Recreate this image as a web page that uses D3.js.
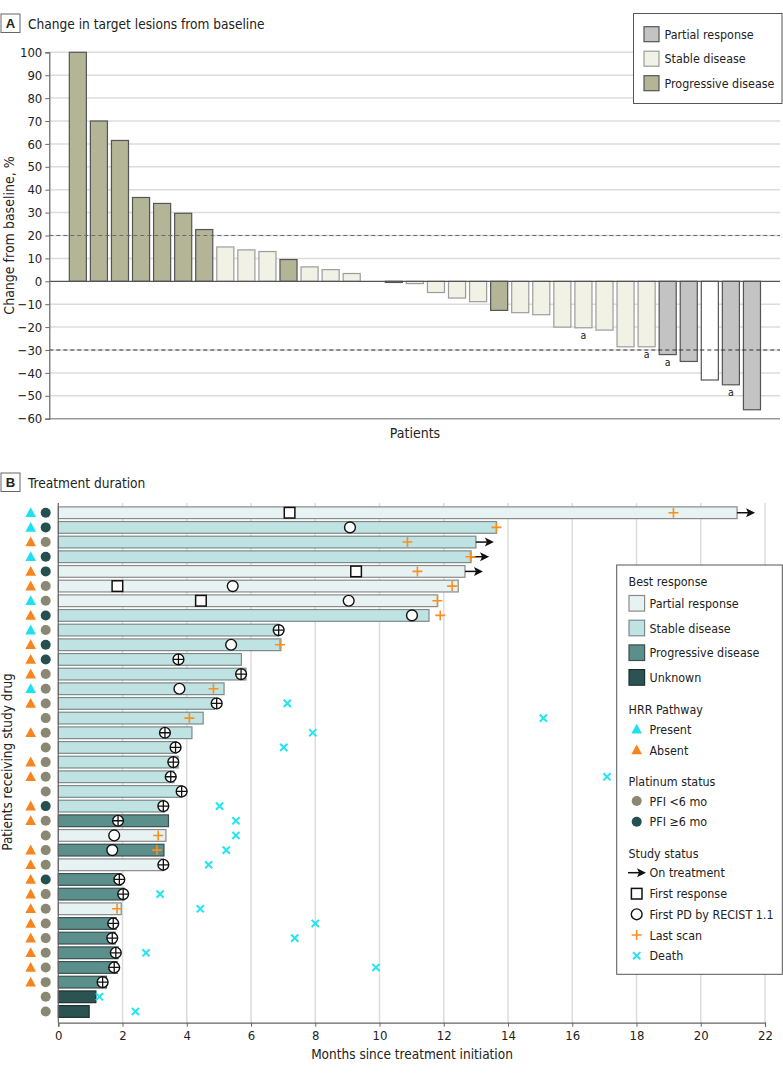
<!DOCTYPE html>
<html>
<head>
<meta charset="utf-8">
<script src="https://cdn.jsdelivr.net/npm/d3@7"></script>
<style>
body { margin: 0; background: #fff; }
svg text { font-family: "Liberation Sans Narrow", "DejaVu Sans Condensed", "Liberation Sans", sans-serif; fill: #222; }
</style>
</head>
<body>
<svg id="chart" width="783" height="1074"></svg>
<script>
// ---- Panel A data: change in target lesions (one entry per patient)
const changeValues = [100, 70, 61.5, 36.6, 34, 29.7, 22.6, 15, 13.7, 13, 9.5, 6.3, 5.1, 3.4, 0,
    -0.5, -1, -4.9, -7.3, -8.9, -12.7, -13.7, -14.6, -20, -20.3, -21.3, -28.6, -28.6,
    -32, -35, -43.1, -45.2, -56.1];
const changeResponse = ['PD','PD','PD','PD','PD','PD','PD','SD','SD','SD','PD','SD','SD','SD','NA',
    'PD','SD','SD','SD','SD','PD','SD','SD','SD','SD','SD','SD','SD',
    'PR','PR','NE','PR','PR'];
const footnoteA = [24, 27, 28, 31];
const yTicksA = d3.range(-60, 101, 10);
const thresholdsA = [20, -30];
const legendA = [['PR', 'Partial response'], ['SD', 'Stable disease'], ['PD', 'Progressive disease']];

// ---- Panel B data: treatment duration (one entry per row, top to bottom)
const bestResponse = ['PR','SD','SD','SD','PR','PR','PR','SD','SD','SD','SD','SD','SD','SD','SD','SD',
    'SD','SD','SD','SD','SD','PD','PR','PD','PR','PD','PD','PR','PD','PD','PD','PD','PD','UN','UN'];
const hrrPathway = ['P','P','A','P','A','A','P','A','P','A','A','A','P','A','','A',
    '','A','A','','A','A','','A','A','A','A','A','A','A','A','A','A','',''];
const pfiStatus = ['hi','hi','lo','hi','hi','lo','lo','hi','lo','hi','hi','lo','lo','lo','lo','lo',
    'lo','lo','lo','lo','hi','lo','lo','lo','lo','hi','lo','lo','lo','lo','lo','lo','lo','lo','lo'];
const duration = [21.13, 13.64, 13.0, 12.85, 12.66, 12.45, 11.81, 11.54, 6.86, 6.93, 5.7, 5.84, 5.16, 4.86, 4.51, 4.16,
    3.68, 3.73, 3.6, 3.85, 3.3, 3.43, 3.35, 3.29, 3.27, 1.95, 2.05, 1.96, 1.8, 1.77, 1.86, 1.83, 1.5, 1.17, 0.96];
const onTreatment = [1,0,1,1,1,0,0,0,0,0,0,0,0,0,0,0,0,0,0,0,0,0,0,0,0,0,0,0,0,0,0,0,0,0,0];
const firstResponse = [7.2,null,null,null,9.27,1.84,4.44,null,null,null,null,null,null,null,null,null,
    null,null,null,null,null,null,null,null,null,null,null,null,null,null,null,null,null,null,null];
const firstPD = [null,9.08,null,null,null,5.43,9.04,11.01,null,5.38,null,null,3.77,null,null,null,
    null,null,null,null,null,null,1.74,1.68,null,null,null,null,null,null,null,null,null,null,null];
const lastScan = [19.15,13.64,10.87,12.83,11.18,12.26,11.8,11.89,null,6.9,null,null,4.83,null,4.08,null,
    null,null,null,null,null,null,3.11,3.07,null,null,null,1.83,null,null,null,null,null,null,null];
const pdAtLastScan = [null,null,null,null,null,null,null,null,6.86,null,3.74,5.69,null,4.93,null,3.32,
    3.65,3.58,3.5,3.84,3.27,1.86,null,null,3.27,1.9,2.02,null,1.71,1.68,1.79,1.74,1.38,null,null];
const death = [null,null,null,null,null,null,null,null,null,null,null,null,null,7.13,15.1,7.92,
    7.02,null,17.08,null,5.02,5.53,5.53,5.23,4.68,null,3.17,4.42,8.0,7.36,2.73,9.89,null,1.28,2.4];
const xTicksB = d3.range(0, 23, 2);

const svg = d3.select('#chart');

// colours
const fillA = {PD: '#b4b597', SD: '#f1f2e5', PR: '#c3c3c3', NE: '#ffffff'};
const strokeA = {PD: '#555', SD: '#9c9c9c', PR: '#555', NE: '#555'};
const fillB = {PR: '#e7f3f3', SD: '#bfe3e2', PD: '#5a8f8c', UN: '#2b5352'};
const strokeB = {PR: '#8a8a8a', SD: '#7c8a8a', PD: '#3d4f4f', UN: '#1e2f2f'};
const hrrColor = {P: '#20e0f0', A: '#f7841c'};
const pfiColor = {lo: '#8a8772', hi: '#264f50'};
const orange = '#f7901e', cyan = '#22e4f2';
const legFont = '12.4px';

function panelLabel(letter, title, y) {
    svg.append('rect').attr('x', 1).attr('y', y).attr('width', 19).attr('height', 18.5)
        .attr('fill', '#fff').attr('stroke', '#666').attr('stroke-width', 1);
    svg.append('text').attr('x', 10.5).attr('y', y + 14.2).attr('text-anchor', 'middle')
        .style('font-family', 'Liberation Sans, sans-serif')
        .style('font-weight', 'bold').style('font-size', '13px').text(letter);
    svg.append('text').attr('x', 28).attr('y', y + 14.5).style('font-size', '13.6px').text(title);
}

// ================= Panel A =================
panelLabel('A', 'Change in target lesions from baseline', 14);

const yA = d3.scaleLinear().domain([-60, 100]).range([418.7, 52.3]);
const xA = d3.scaleBand().domain(d3.range(changeValues.length))
    .range([49.3, 780.5]).paddingInner(0.19).paddingOuter(0.95);
const barsA = changeValues.map((v, i) => ({i: i, v: v, r: changeResponse[i]})).filter(d => d.v !== 0);

const gA = svg.append('g');
gA.selectAll('line.grid').data(yTicksA.filter(d => d !== 0 && d !== -60)).enter()
    .append('line').attr('class', 'grid')
    .attr('x1', 49.3).attr('x2', 780).attr('y1', d => yA(d)).attr('y2', d => yA(d))
    .attr('stroke', '#dcdcdc').attr('stroke-width', 1.5);

gA.append('line').attr('x1', 49.3).attr('x2', 780).attr('y1', yA(-60)).attr('y2', yA(-60))
    .attr('stroke', '#999').attr('stroke-width', 1.5);

gA.selectAll('rect.bar').data(barsA).enter()
    .append('rect').attr('class', 'bar')
    .attr('x', d => xA(d.i))
    .attr('width', xA.bandwidth())
    .attr('y', d => yA(Math.max(0, d.v)))
    .attr('height', d => Math.max(1, Math.abs(yA(d.v) - yA(0))))
    .attr('fill', d => fillA[d.r] || '#fff')
    .attr('stroke', d => strokeA[d.r] || '#555')
    .attr('stroke-width', 1.2);

gA.append('line').attr('x1', 49.3).attr('x2', 780).attr('y1', yA(0)).attr('y2', yA(0))
    .attr('stroke', '#555').attr('stroke-width', 1.2);

gA.selectAll('line.thr').data(thresholdsA).enter()
    .append('line').attr('class', 'thr')
    .attr('x1', 49.3).attr('x2', 780).attr('y1', d => yA(d)).attr('y2', d => yA(d))
    .attr('stroke', d => d > 0 ? '#6a6a6a' : '#333').attr('stroke-width', 1.1)
    .attr('stroke-dasharray', '4,3');

gA.selectAll('text.fn').data(footnoteA).enter()
    .append('text').attr('class', 'fn')
    .attr('x', i => xA(i) + xA.bandwidth() / 2)
    .attr('y', i => yA(changeValues[i]) + 11)
    .attr('text-anchor', 'middle').style('font-size', '10.5px').text('a');

const axA = d3.axisLeft(yA).tickValues(yTicksA).tickSize(4).tickPadding(3);
const axAg = svg.append('g').attr('transform', 'translate(49.3,0)').call(axA);
axAg.select('.domain').attr('stroke', '#666').attr('stroke-width', 1.2);
axAg.selectAll('.tick line').attr('stroke', '#666');
axAg.selectAll('.tick text').style('font-size', '13px').attr('fill', '#222');

svg.append('text').attr('transform', 'translate(14,' + yA(20) + ') rotate(-90)')
    .attr('text-anchor', 'middle').style('font-size', '14px').text('Change from baseline, %');
svg.append('text').attr('x', 415).attr('y', 438).attr('text-anchor', 'middle')
    .style('font-size', '14px').text('Patients');

// legend A
const legA = svg.append('g');
legA.append('rect').attr('x', 633.5).attr('y', 13.5).attr('width', 148.5).attr('height', 90)
    .attr('fill', '#fff').attr('stroke', '#555').attr('stroke-width', 1);
legendA.forEach(function(d, i){
    const y = 26.7 + i * 24.5;
    legA.append('rect').attr('x', 644).attr('y', y).attr('width', 15).attr('height', 15)
        .attr('fill', fillA[d[0]]).attr('stroke', strokeA[d[0]]).attr('stroke-width', 1.2);
    legA.append('text').attr('x', 664.5).attr('y', y + 12).style('font-size', legFont).text(d[1]);
});

// ================= Panel B =================
panelLabel('B', 'Treatment duration', 473);

const xB = d3.scaleLinear().domain([0, 22]).range([58.3, 765]);
const yB = d3.scaleBand().domain(d3.range(duration.length))
    .range([505.4, 1018.8]).paddingInner(0.2).paddingOuter(0.1);
const cy = i => yB(i) + yB.bandwidth() / 2;

const gB = svg.append('g');
gB.selectAll('line.vgrid').data(xTicksB.filter(d => d > 0)).enter()
    .append('line').attr('class', 'vgrid')
    .attr('x1', d => xB(d)).attr('x2', d => xB(d)).attr('y1', 503).attr('y2', 1022.7)
    .attr('stroke', '#dcdcdc').attr('stroke-width', 1.5);

gB.selectAll('rect.dur').data(duration).enter()
    .append('rect').attr('class', 'dur')
    .attr('x', xB(0)).attr('y', (d, i) => yB(i))
    .attr('width', d => xB(d) - xB(0)).attr('height', yB.bandwidth())
    .attr('fill', (d, i) => fillB[bestResponse[i]])
    .attr('stroke', (d, i) => strokeB[bestResponse[i]]).attr('stroke-width', 1.2);

function arrow(g, x, y, len) {
    g.append('line').attr('x1', x).attr('x2', x + len - 7).attr('y1', y).attr('y2', y)
        .attr('stroke', '#111').attr('stroke-width', 1.5);
    g.append('path').attr('d', `M${x + len},${y} L${x + len - 9},${y - 4.5} L${x + len - 7},${y} L${x + len - 9},${y + 4.5} Z`)
        .attr('fill', '#111');
}
duration.forEach(function(d, i){ if (onTreatment[i]) arrow(gB, xB(d), cy(i), 18); });

function square(g, x, y) {
    g.append('rect').attr('x', x - 5.3).attr('y', y - 5.3).attr('width', 10.6).attr('height', 10.6)
        .attr('fill', '#fff').attr('stroke', '#111').attr('stroke-width', 1.5);
}
function ring(g, x, y, withPlus) {
    g.append('circle').attr('cx', x).attr('cy', y).attr('r', 5.4)
        .attr('fill', '#fff').attr('stroke', '#111').attr('stroke-width', 1.4);
    if (withPlus) {
        g.append('path').attr('d', `M${x - 5.4},${y} H${x + 5.4} M${x},${y - 5.4} V${y + 5.4}`)
            .attr('stroke', '#111').attr('stroke-width', 1.3);
    }
}
function plus(g, x, y) {
    g.append('path').attr('d', `M${x - 5},${y} H${x + 5} M${x},${y - 5} V${y + 5}`)
        .attr('stroke', orange).attr('stroke-width', 1.6);
}
function cross(g, x, y) {
    g.append('path').attr('d', `M${x - 3.6},${y - 3.6} L${x + 3.6},${y + 3.6} M${x - 3.6},${y + 3.6} L${x + 3.6},${y - 3.6}`)
        .attr('stroke', cyan).attr('stroke-width', 2);
}

const gM = svg.append('g');
duration.forEach(function(d, i){
    const y = cy(i);
    if (firstResponse[i] != null) square(gM, xB(firstResponse[i]), y);
    if (firstPD[i] != null) ring(gM, xB(firstPD[i]), y, false);
    if (pdAtLastScan[i] != null) ring(gM, xB(pdAtLastScan[i]), y, true);
    if (lastScan[i] != null) plus(gM, xB(lastScan[i]), y);
    if (death[i] != null) cross(gM, xB(death[i]), y);
});

// row markers on the left
function triangle(g, x, y, color) {
    g.append('path').attr('d', `M${x},${y - 5.5} L${x + 5.3},${y + 4.3} L${x - 5.3},${y + 4.3} Z`).attr('fill', color);
}
const gR = svg.append('g');
hrrPathway.forEach(function(h, i){ if (h) triangle(gR, 30.7, cy(i), hrrColor[h]); });
gR.selectAll('circle').data(pfiStatus).enter().append('circle')
    .attr('cx', 45.7).attr('cy', (d, i) => cy(i)).attr('r', 5)
    .attr('fill', d => pfiColor[d]);

// axes B
const axB = d3.axisBottom(xB).tickValues(xTicksB).tickSize(4).tickPadding(4);
const axBg = svg.append('g').attr('transform', 'translate(0,1022.7)').call(axB);
axBg.select('.domain').attr('stroke', '#666').attr('stroke-width', 1.2);
axBg.selectAll('.tick line').attr('stroke', '#666');
axBg.selectAll('.tick text').style('font-size', '13px').attr('fill', '#222');
svg.append('line').attr('x1', xB(0)).attr('x2', xB(0)).attr('y1', 503).attr('y2', 1022.7)
    .attr('stroke', '#666').attr('stroke-width', 1.2);

svg.append('text').attr('x', 412).attr('y', 1059).attr('text-anchor', 'middle')
    .style('font-size', '13.5px').text('Months since treatment initiation');
svg.append('text').attr('transform', 'translate(12,' + 762 + ') rotate(-90)')
    .attr('text-anchor', 'middle').style('font-size', '13.5px').text('Patients receiving study drug');

// legend B
const legB = svg.append('g');
legB.append('rect').attr('x', 616.7).attr('y', 565).attr('width', 165.6).attr('height', 409.3)
    .attr('fill', '#fff').attr('stroke', '#555').attr('stroke-width', 1);
const lx = 628.5, sx = 636.7, tx = 649.5;
function legText(x, y, s) {
    legB.append('text').attr('x', x).attr('y', y + 4.5).style('font-size', legFont).text(s);
}
legText(lx, 581, 'Best response');
[['PR', 'Partial response'], ['SD', 'Stable disease'], ['PD', 'Progressive disease'], ['UN', 'Unknown']]
    .forEach(function(d, i){
        const y = 603.3 + i * 24.7;
        legB.append('rect').attr('x', 629).attr('y', y - 7.8).attr('width', 15.6).attr('height', 15.6)
            .attr('fill', fillB[d[0]]).attr('stroke', strokeB[d[0]]).attr('stroke-width', 1.2);
        legText(tx, y, d[1]);
    });
legText(lx, 709.3, 'HRR Pathway');
triangle(legB, sx, 729.3, hrrColor.P); legText(tx, 729.3, 'Present');
triangle(legB, sx, 750, hrrColor.A); legText(tx, 750, 'Absent');
legText(lx, 781.3, 'Platinum status');
legB.append('circle').attr('cx', sx).attr('cy', 801).attr('r', 5).attr('fill', pfiColor.lo);
legText(tx, 801, 'PFI <6 mo');
legB.append('circle').attr('cx', sx).attr('cy', 821.7).attr('r', 5).attr('fill', pfiColor.hi);
legText(tx, 821.7, 'PFI \u22656 mo');
legText(lx, 853.3, 'Study status');
arrow(legB, 628, 872.7, 18); legText(tx, 872.7, 'On treatment');
square(legB, sx, 893.7); legText(tx, 893.7, 'First response');
ring(legB, sx, 914.3, false); legText(tx, 914.3, 'First PD by RECIST 1.1');
plus(legB, sx, 935); legText(tx, 935, 'Last scan');
cross(legB, sx, 955.7); legText(tx, 955.7, 'Death');
</script>
</body>
</html>
